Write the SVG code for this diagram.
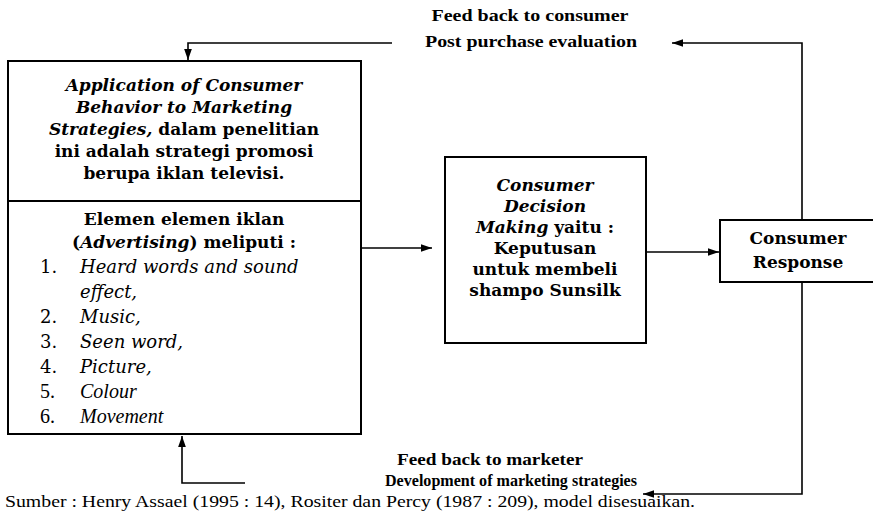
<svg xmlns="http://www.w3.org/2000/svg" width="873" height="512" viewBox="0 0 873 512">
<defs>
<marker id="ah" viewBox="0 0 10 10" refX="10" refY="5" markerWidth="11" markerHeight="11" markerUnits="userSpaceOnUse" orient="auto">
<path d="M0,1.5 L10,5 L0,8.5 Z" fill="#000"/>
</marker>
<style>
.box{fill:#fff;stroke:#000;stroke-width:2}
.ln{fill:none;stroke:#000;stroke-width:1.6}
.t{fill:#000}
.d{font-family:"DejaVu Serif","Liberation Serif",serif}
.s{font-family:"Liberation Serif","Times New Roman",serif}
.i{font-style:italic}
.h{font-size:17px;font-weight:bold;text-anchor:middle}
.li{font-size:18px;font-style:italic}
.num{font-size:18px}
.big{font-size:20px}
.fb{font-size:16px;font-weight:bold;text-anchor:middle}
.src{font-size:17px}
</style>
</defs>
<g id="connectors">
<polyline class="ln" points="802,220 802,43 672,43" marker-end="url(#ah)"/>
<polyline class="ln" points="392,43 188,43 188,60" marker-end="url(#ah)"/>
<line class="ln" x1="361" y1="248" x2="432" y2="248" marker-end="url(#ah)"/>
<line class="ln" x1="646" y1="252" x2="719" y2="252" marker-end="url(#ah)"/>
<polyline class="ln" points="802,282 802,494 643,494" marker-end="url(#ah)"/>
<polyline class="ln" points="245,483 182,483 182,436" marker-end="url(#ah)"/>
</g>
<g id="label-top">
<text class="t s fb" x="530" y="21" textLength="197" lengthAdjust="spacingAndGlyphs">Feed back to consumer</text>
<text class="t s fb" x="531" y="47" textLength="212" lengthAdjust="spacingAndGlyphs">Post purchase evaluation</text>
</g>
<g id="label-bottom">
<text class="t s fb" x="490" y="465" textLength="186" lengthAdjust="spacingAndGlyphs">Feed back to marketer</text>
<text class="t s fb" x="511" y="486" textLength="252" lengthAdjust="spacingAndGlyphs">Development of marketing strategies</text>
</g>
<g id="node-application">
<rect class="box" x="8" y="61" width="353" height="373"/>
<line class="box" x1="8" y1="201" x2="361" y2="201"/>
<text class="t d h" x="184" y="91"><tspan class="i">Application of Consumer</tspan></text>
<text class="t d h" x="184" y="113"><tspan class="i">Behavior to Marketing</tspan></text>
<text class="t d h" x="184" y="135"><tspan class="i">Strategies,</tspan> dalam penelitian</text>
<text class="t d h" x="184" y="157">ini adalah strategi promosi</text>
<text class="t d h" x="184" y="179">berupa iklan televisi.</text>
<text class="t d h" x="184" y="225">Elemen elemen iklan</text>
<text class="t d h" x="184" y="248">(<tspan class="i">Advertising</tspan>) meliputi :</text>
<g class="t">
<text class="d num" x="40" y="273">1.</text><text class="d li" x="80" y="273">Heard words and sound</text>
<text class="d li" x="80" y="298">effect,</text>
<text class="d num" x="40" y="323">2.</text><text class="d li" x="80" y="323">Music,</text>
<text class="d num" x="40" y="348">3.</text><text class="d li" x="80" y="348">Seen word,</text>
<text class="d num" x="40" y="373">4.</text><text class="d li" x="80" y="373">Picture,</text>
<text class="s num big" x="40" y="398">5.</text><text class="s li big" x="80" y="398">Colour</text>
<text class="s num big" x="40" y="423">6.</text><text class="s li big" x="80" y="423">Movement</text>
</g>
</g>
<g id="node-decision">
<rect class="box" x="445" y="157" width="201" height="186"/>
<text class="t d h" x="545" y="191"><tspan class="i">Consumer</tspan></text>
<text class="t d h" x="545" y="212"><tspan class="i">Decision</tspan></text>
<text class="t d h" x="545" y="233"><tspan class="i">Making</tspan> yaitu :</text>
<text class="t d h" x="545" y="254">Keputusan</text>
<text class="t d h" x="545" y="275">untuk membeli</text>
<text class="t d h" x="545" y="296">shampo Sunsilk</text>
</g>
<g id="node-response">
<rect class="box" x="720" y="220" width="160" height="62"/>
<text class="t d h" x="798" y="244">Consumer</text>
<text class="t d h" x="798" y="268">Response</text>
</g>
<g id="source">
<text class="t s src" x="5" y="507" textLength="690" lengthAdjust="spacingAndGlyphs">Sumber : Henry Assael (1995 : 14), Rositer dan Percy (1987 : 209), model disesuaikan.</text>
</g>
</svg>
